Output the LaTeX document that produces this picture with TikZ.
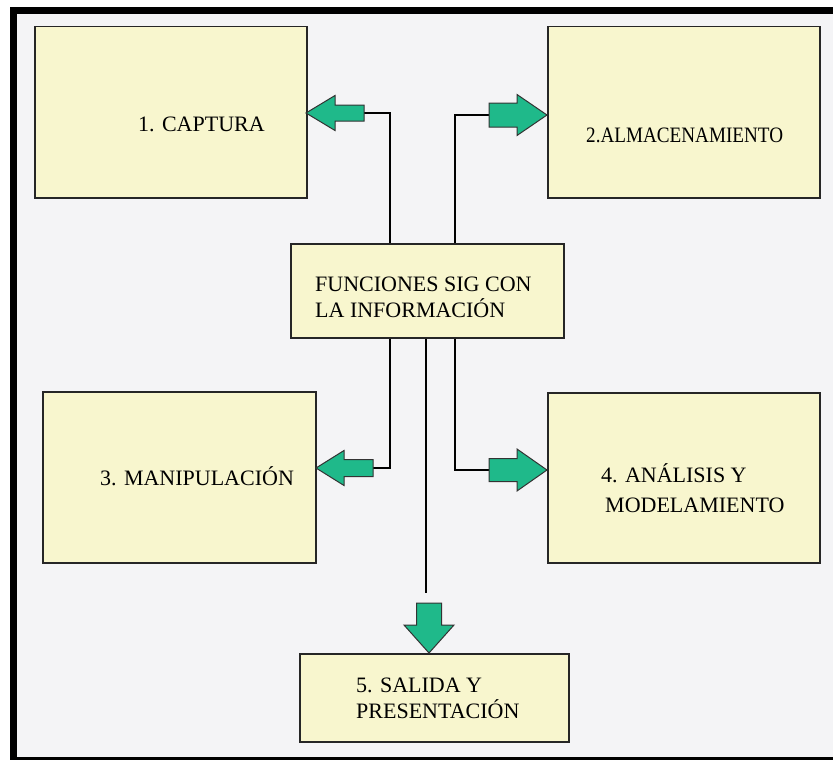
\documentclass[tikz,border=0pt]{standalone}
\usepackage{fontspec}
\usepackage{graphicx}
\setmainfont{Liberation Serif}
\definecolor{bgc}{HTML}{F4F4F6}
\definecolor{boxc}{HTML}{F8F6CE}
\definecolor{arrc}{HTML}{1FB98A}
\newcommand\hArrowShape[6]{% tip x, tip y, length, head length, head half, body half
  \draw[arr] (#1,#2) -- ++(#4,-#5) -- ++(0,{#5-#6}) -- ++({#3-#4},0) -- ++(0,{2*#6})
    -- ++({#4-#3},0) -- ++(0,{#5-#6}) -- cycle;}
\newcommand\vArrowShape[6]{% tip x, tip y, length, head length, head half, body half
  \draw[arr] (#1,#2) -- ++(-#5,-#4) -- ++({#5-#6},0) -- ++(0,{#4-#3}) -- ++({2*#6},0)
    -- ++(0,{#3-#4}) -- ++({#5-#6},0) -- cycle;}
\begin{document}
\begin{tikzpicture}[x=1pt,y=-1pt,
  box/.style={draw=black!85, line width=1.5pt, fill=boxc, inner sep=0pt, anchor=north west},
  txt/.style={anchor=base west, inner sep=0pt, font=\fontsize{22}{26}\selectfont},
  conn/.style={line width=1.4pt, black},
  arr/.style={fill=arrc, draw=black!80, line width=1pt, line join=miter}]
\useasboundingbox (0,0) rectangle (833,760);
\fill[white] (0,0) rectangle (833,760);
% frame and background
\fill[bgc] (17,14) rectangle (833,757);
\fill[black] (10,7) rectangle (833,14);
\fill[black] (10,7) rectangle (17,760);
\fill[black] (10,757) rectangle (833,760);
% boxes
\node[box, minimum width=272pt, minimum height=171pt] (b1) at (34,26) {};
\node[box, minimum width=272pt, minimum height=171pt] (b2) at (547,26) {};
\node[box, minimum width=273pt, minimum height=94pt] (cen) at (290,243) {};
\node[box, minimum width=273pt, minimum height=171pt] (b3) at (42,391) {};
\node[box, minimum width=272pt, minimum height=170pt] (b4) at (547,392) {};
\node[box, minimum width=269pt, minimum height=88pt] (b5) at (299,653) {};
% texts
\node[txt] (t1) at (138,131) {1. CAPTURA};
\node[txt] (t2) at (586,142) {\scalebox{0.87}[1]{2.ALMACENAMIENTO}};
\node[txt] (tc1) at (315,291) {FUNCIONES SIG CON};
\node[txt] (tc2) at (315,317) {LA INFORMACIÓN};
\node[txt] (t3) at (100,485) {3. MANIPULACIÓN};
\node[txt] (t4a) at (601,482) {4. ANÁLISIS Y};
\node[txt] (t4b) at (605,512) {MODELAMIENTO};
\node[txt] (t5a) at (356,692) {5. SALIDA Y};
\node[txt] (t5b) at (356,718) {PRESENTACIÓN};
% junction points and arrow tails
\coordinate (j1) at (390,113);
\coordinate (j2) at (455,115);
\coordinate (j3) at (390,468);
\coordinate (j4) at (455,470);
\coordinate (j5) at (426,593);
\coordinate (a1tail) at (364,113);
\coordinate (a2tail) at (489,115);
\coordinate (a3tail) at (373,468);
\coordinate (a4tail) at (489,470);
% connectors
\draw[conn] (j1 |- cen.north) -- (j1) -- (a1tail);
\draw[conn] (j2 |- cen.north) -- (j2) -- (a2tail);
\draw[conn] (j3 |- cen.south) -- (j3) -- (a3tail);
\draw[conn] (j4 |- cen.south) -- (j4) -- (a4tail);
\draw[conn] (j5 |- cen.south) -- (j5);
% block arrows
\hArrowShape{306}{113}{58}{29}{17.5}{8}
\hArrowShape{547}{115}{-58}{-30}{20.5}{12}
\hArrowShape{316}{468}{57}{28}{17.5}{8.5}
\hArrowShape{547}{470}{-58}{-30}{21}{11.5}
\vArrowShape{429}{653}{50}{28}{25}{12.5}
\end{tikzpicture}
\end{document}
